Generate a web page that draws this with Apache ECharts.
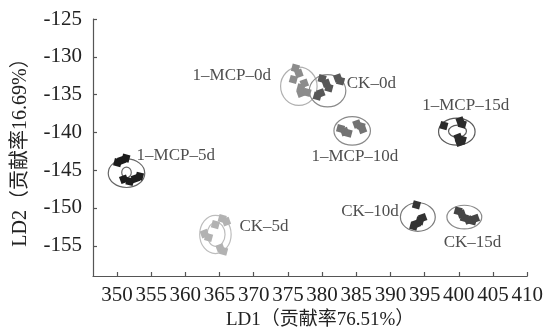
<!DOCTYPE html>
<html>
<head>
<meta charset="utf-8">
<script src="https://cdn.jsdelivr.net/npm/echarts@6/dist/echarts.min.js"></script>
<style>html,body{margin:0;padding:0;background:#fff}#c{width:546px;height:335px}</style>
</head>
<body>
<div id="c"></div>
<script>
// Group names
const groupNames = ['1–MCP–0d', 'CK–0d', '1–MCP–10d', '1–MCP–15d', '1–MCP–5d', 'CK–5d', 'CK–10d', 'CK–15d'];

// Sample points (LD1, LD2) per group
const ptsMCP0 = [[376.1, -131.5], [376.6, -132.2], [375.8, -133.0], [377.4, -133.5], [376.9, -134.1], [376.9, -134.8], [377.8, -134.7]];
const ptsCK0 = [[380.0, -132.9], [380.6, -133.5], [381.0, -134.1], [379.8, -134.8], [379.3, -135.2], [382.3, -132.8], [382.7, -133.2]];
const ptsMCP10 = [[382.7, -139.5], [383.3, -139.9], [383.8, -140.1], [385.1, -138.9], [385.7, -139.2], [385.9, -139.6]];
const ptsMCP15 = [[397.8, -139.1], [400.2, -138.5], [400.5, -138.9], [399.9, -140.7], [400.5, -141.0], [400.1, -141.3]];
const ptsMCP5 = [[350.1, -144.0], [350.7, -143.7], [351.3, -143.4], [351.0, -146.2], [351.9, -146.5], [352.7, -146.1], [353.3, -145.8]];
const ptsCK5 = [[365.4, -151.4], [366.0, -151.8], [364.4, -152.2], [362.8, -153.4], [363.4, -153.9], [365.1, -155.3], [365.6, -155.7]];
const ptsCK10 = [[393.8, -149.6], [394.7, -151.3], [394.3, -151.7], [393.8, -152.1], [393.4, -152.4]];
const ptsCK15 = [[399.9, -150.4], [400.4, -150.8], [400.8, -151.3], [401.4, -151.6], [402.0, -151.7], [402.4, -151.4]];

// Confidence ellipses: [centre LD1, centre LD2, half-width LD1, half-height LD2]
const outerEllipses = [
  [376.6, -133.9, 2.67, 2.53],
  [380.8, -134.5, 2.67, 2.13],
  [384.4, -139.8, 2.67, 1.89],
  [399.7, -139.9, 2.67, 1.79],
  [351.4, -145.4, 2.67, 1.89],
  [364.4, -153.5, 2.30, 2.53],
  [394.0, -151.2, 2.55, 1.89],
  [400.8, -151.2, 2.55, 1.56]
];
const innerEllipses = [
  [399.8, -139.85, 1.31, 0.80],
  [351.4, -145.3, 0.70, 0.70],
  [364.5, -153.5, 1.31, 1.60]
];

// Label anchor positions
const labelPos = [[366.8, -132.5], [387.2, -133.6], [384.8, -143.2], [401.0, -136.5], [358.6, -143.0], [371.5, -152.5], [387.0, -150.5], [402.0, -154.6]];

// Axis ticks
const xTicks = [350, 355, 360, 365, 370, 375, 380, 385, 390, 395, 400, 405, 410];
const yTicks = [-155, -150, -145, -140, -135, -130, -125];

const allPts = [ptsMCP0, ptsCK0, ptsMCP10, ptsMCP15, ptsMCP5, ptsCK5, ptsCK10, ptsCK15];
const pointColors = ['#8c8c8c', '#575757', '#737373', '#2b2b2b', '#1c1c1c', '#b2b2b2', '#333333', '#454545'];
const ellipseColors = ['#b0b0b0', '#8a8a8a', '#8a8a8a', '#5a5a5a', '#666666', '#bdbdbd', '#7a7a7a', '#8a8a8a'];
const innerColors = ['#5a5a5a', '#666666', '#bdbdbd'];

const FONT = "'Liberation Serif', 'Times New Roman', 'Noto Sans CJK SC', serif";

const chart = echarts.init(document.getElementById('c'), null, {renderer: 'canvas'});

function ellipseSeries(data, colors) {
  return {
    type: 'custom',
    coordinateSystem: 'cartesian2d',
    silent: true,
    z: 1,
    renderItem: function (params, api) {
      const c = api.coord([api.value(0), api.value(1)]);
      const s = api.size([api.value(2), api.value(3)]);
      return {
        type: 'ellipse',
        shape: {cx: c[0], cy: c[1], rx: s[0], ry: s[1]},
        style: {fill: 'none', stroke: colors[params.dataIndex], lineWidth: 1.2}
      };
    },
    data: data
  };
}

const series = [ellipseSeries(outerEllipses, ellipseColors), ellipseSeries(innerEllipses, innerColors)];
allPts.forEach(function (pts, i) {
  series.push({
    type: 'scatter',
    name: groupNames[i],
    data: pts,
    symbol: 'rect',
    symbolSize: 7.5,
    symbolRotate: function (v, p) { return (p.dataIndex % 2) ? 20 : -15; },
    itemStyle: {color: pointColors[i], opacity: 1},
    z: 3
  });
});
series.push({
  type: 'scatter',
  symbolSize: 0,
  silent: true,
  z: 4,
  data: labelPos.map(function (p, i) { return {value: p, name: groupNames[i]}; }),
  label: {
    show: true,
    position: 'inside',
    formatter: '{b}',
    color: '#222',
    fontSize: 17,
    fontFamily: FONT
  }
});

const axisLineStyle = {color: '#555', width: 1.2};

chart.setOption({
  animation: false,
  backgroundColor: '#fff',
  grid: {left: 93, right: 17, top: 19, bottom: 59, containLabel: false},
  xAxis: {
    type: 'value',
    min: 346.5,
    max: 410,
    name: 'LD1（贡献率76.51%）',
    nameLocation: 'middle',
    nameGap: 35,
    nameTextStyle: {fontSize: 19, fontFamily: FONT, color: '#222', padding: [0, 0, 0, 20]},
    axisLine: {show: true, lineStyle: axisLineStyle},
    axisTick: {show: true, inside: true, length: 4, lineStyle: axisLineStyle, customValues: xTicks},
    axisLabel: {fontSize: 21, fontFamily: FONT, color: '#222', margin: 9, customValues: xTicks},
    splitLine: {show: false}
  },
  yAxis: {
    type: 'value',
    min: -159,
    max: -125,
    name: 'LD2（贡献率16.69%）',
    nameLocation: 'middle',
    nameGap: 62,
    nameTextStyle: {fontSize: 20, fontFamily: FONT, color: '#222'},
    axisLine: {show: true, lineStyle: axisLineStyle},
    axisTick: {show: true, inside: true, length: 4, lineStyle: axisLineStyle, customValues: yTicks},
    axisLabel: {fontSize: 21, fontFamily: FONT, color: '#222', margin: 11, customValues: yTicks},
    splitLine: {show: false}
  },
  series: series
});
</script>
</body>
</html>
